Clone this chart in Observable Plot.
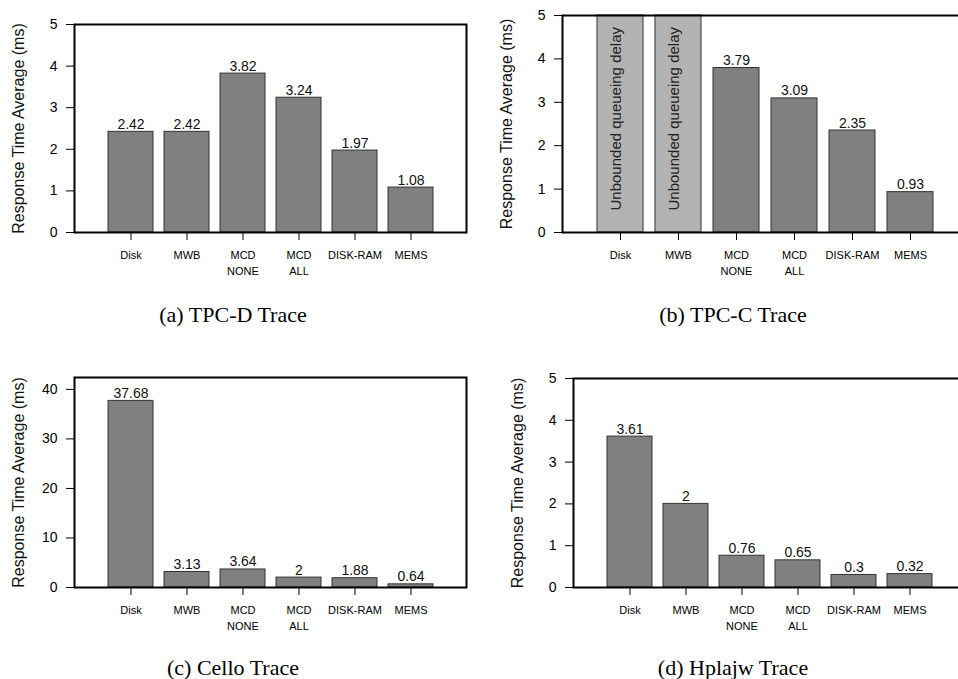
<!DOCTYPE html>
<html><head><meta charset="utf-8">
<script src="https://cdn.jsdelivr.net/npm/d3@7"></script>
<script src="https://cdn.jsdelivr.net/npm/@observablehq/plot@0.6"></script>
<style>
html,body{margin:0;padding:0;background:#fff;overflow:hidden}
body{width:958px;height:679px;position:relative;font-family:"Liberation Sans",Arial,sans-serif}
.panel{position:absolute}
.panel svg{max-width:none !important}
.cap{position:absolute;font-family:"Liberation Serif","Times New Roman",serif;font-size:22px;line-height:1;transform:translate(-50%,-50%);white-space:nowrap;color:#000}
</style></head><body>
<script>
// ---- data ----
const categories = ["Disk", "MWB", "MCD\nNONE", "MCD\nALL", "DISK-RAM", "MEMS"];
const tpcdValues = [2.42, 2.42, 3.82, 3.24, 1.97, 1.08];
const tpccValues = [null, null, 3.79, 3.09, 2.35, 0.93];
const celloValues = [37.68, 3.13, 3.64, 2, 1.88, 0.64];
const hplajwValues = [3.61, 2, 0.76, 0.65, 0.3, 0.32];
const unboundedCategories = ["Disk", "MWB"];
const unboundedLabel = "Unbounded queueing delay";
const yTicksSmall = [0, 1, 2, 3, 4, 5];
const yTicksCello = [0, 10, 20, 30, 40];
const yMaxSmall = 5;
const yMaxCello = 42.4;
const yLabel = "Response Time Average (ms)";
const captions = ["(a) TPC-D Trace", "(b) TPC-C Trace", "(c) Cello Trace", "(d) Hplajw Trace"];

const layouts = [
  {values: tpcdValues, yMax: yMaxSmall, yTicks: yTicksSmall, fl: 74, ft: 24, fw: 392, fh: 208, cap: [233, 315]},
  {values: tpccValues, yMax: yMaxSmall, yTicks: yTicksSmall, fl: 562, ft: 15, fw: 407, fh: 217, cap: [733, 315], unbounded: true},
  {values: celloValues, yMax: yMaxCello, yTicks: yTicksCello, fl: 74, ft: 377, fw: 392, fh: 210, cap: [233, 668]},
  {values: hplajwValues, yMax: yMaxSmall, yTicks: yTicksSmall, fl: 573, ft: 378, fw: 392, fh: 209, cap: [733, 668]}
];

const mL = 74, mT = 12, mB = 60, mR = 10;

layouts.forEach((L, k) => {
  const data = categories.map((c, i) => ({c, v: L.values[i]})).filter(d => d.v != null);
  const marks = [];
  if (L.unbounded) {
    marks.push(Plot.barY(unboundedCategories, {x: d => d, y: () => L.yMax, fill: "#b3b3b3", stroke: "#333", strokeWidth: 1}));
    marks.push(Plot.text(unboundedCategories, {x: d => d, text: () => unboundedLabel, rotate: -90, frameAnchor: "bottom", textAnchor: "start", dy: -22, fontSize: 15, fill: "#222"}));
  }
  marks.push(Plot.barY(data, {x: "c", y: "v", fill: "#808080", stroke: "#333", strokeWidth: 1}));
  marks.push(Plot.text(data, {x: "c", y: "v", text: d => String(d.v), lineAnchor: "bottom", dy: -3, fontSize: 14, fill: "#111"}));
  marks.push(Plot.axisY({ticks: L.yTicks, tickSize: 8, tickPadding: 9, fontSize: 14, label: null, tickFormat: d => String(d)}));
  marks.push(Plot.text([yLabel], {text: d => d, frameAnchor: "left", textAnchor: "middle", rotate: -90, dx: -56, fontSize: 16, fill: "#111"}));
  marks.push(Plot.axisX({tickSize: 8, tickPadding: 8, fontSize: 11, label: null, lineHeight: 1.4}));
  marks.push(Plot.frame({stroke: "black", strokeWidth: 2}));

  const W = mL + L.fw + mR, H = mT + L.fh + mB;
  const chart = Plot.plot({
    width: W,
    height: H,
    marginLeft: mL, marginRight: mR, marginTop: mT, marginBottom: mB,
    style: {fontFamily: "'Liberation Sans', Arial, sans-serif", background: "transparent", overflow: "visible", color: "#000", maxWidth: "none"},
    x: {type: "band", domain: categories, paddingInner: 0.2, paddingOuter: 0.6, label: null},
    y: {domain: [0, L.yMax], label: null},
    marks
  });
  chart.style.maxWidth = "none";
  const div = document.createElement("div");
  div.className = "panel";
  div.style.left = (L.fl - mL) + "px";
  div.style.top = (L.ft - mT) + "px";
  div.style.width = W + "px";
  div.style.height = H + "px";
  div.appendChild(chart);
  document.body.appendChild(div);

  const cap = document.createElement("div");
  cap.className = "cap";
  cap.style.left = L.cap[0] + "px";
  cap.style.top = L.cap[1] + "px";
  cap.textContent = captions[k];
  document.body.appendChild(cap);
});
</script>
</body></html>
